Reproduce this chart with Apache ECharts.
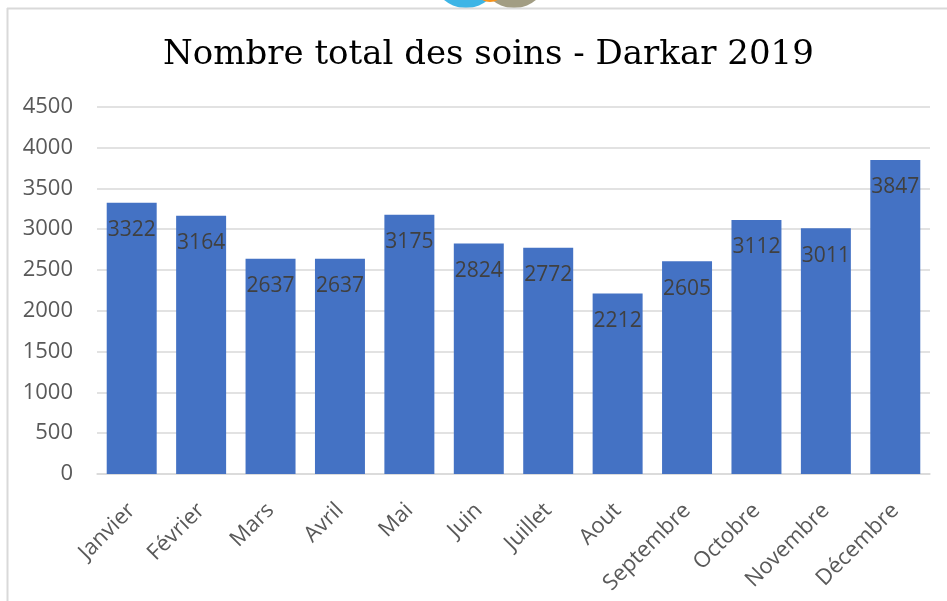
<!DOCTYPE html>
<html>
<head>
<meta charset="utf-8">
<script src="https://cdn.jsdelivr.net/npm/echarts@6/dist/echarts.min.js"></script>
<style>
  html, body { margin: 0; padding: 0; background: #fff; }
  #chart { width: 947px; height: 601px; }
</style>
</head>
<body>
<div id="chart"></div>
<script>
// Data
var months = ['Janvier', 'Février', 'Mars', 'Avril', 'Mai', 'Juin', 'Juillet', 'Aout', 'Septembre', 'Octobre', 'Novembre', 'Décembre'];
var soins = [3322, 3164, 2637, 2637, 3175, 2824, 2772, 2212, 2605, 3112, 3011, 3847];
var yMax = 4500;
var yStep = 500;

var myChart = echarts.init(document.getElementById('chart'));
var option = {
    animation: false,
    title: {
        text: 'Nombre total des soins - Darkar 2019',
        left: 158,
        top: 33,
        textStyle: {
            fontFamily: 'DejaVu Serif',
            fontSize: 34,
            fontWeight: 'normal',
            color: '#000'
        }
    },
    graphic: [
        { type: 'circle', shape: { cx: 466, cy: -26, r: 34 }, style: { fill: '#3db5e6' } },
        { type: 'circle', shape: { cx: 514, cy: -26, r: 34 }, style: { fill: '#a29d83' } },
        { type: 'circle', shape: { cx: 490, cy: -14, r: 16 }, style: { fill: '#f7941d' } },
        { type: 'line', shape: { x1: 7, y1: 8.5, x2: 947, y2: 8.5 }, style: { stroke: '#d9d9d9', lineWidth: 2 } },
        { type: 'line', shape: { x1: 7.5, y1: 8, x2: 7.5, y2: 601 }, style: { stroke: '#d9d9d9', lineWidth: 2 } }
    ],
    grid: {
        left: 97,
        right: 17,
        top: 106.7,
        bottom: 127
    },
    xAxis: {
        type: 'category',
        data: months,
        axisTick: { show: false },
        axisLine: { lineStyle: { color: '#d9d9d9', width: 1.5 } },
        axisLabel: {
            rotate: 45,
            interval: 0,
            margin: 33,
            fontFamily: 'Open Sans',
            fontSize: 22,
            color: '#595959'
        }
    },
    yAxis: {
        type: 'value',
        min: 0,
        max: yMax,
        interval: yStep,
        axisLine: { show: false },
        axisTick: { show: false },
        splitLine: { lineStyle: { color: '#d9d9d9', width: 1.5 } },
        axisLabel: {
            margin: 24,
            fontFamily: 'Open Sans',
            fontSize: 22,
            color: '#595959',
            formatter: function (v) { return String(v); }
        }
    },
    series: [
        {
            name: 'Soins',
            type: 'bar',
            data: soins,
            barWidth: '72%',
            itemStyle: { color: '#4472c4' },
            label: {
                show: true,
                position: 'insideTop',
                distance: 17,
                fontFamily: 'Open Sans',
                fontSize: 21,
                color: '#404040'
            }
        }
    ]
};
option && myChart.setOption(option);
</script>
</body>
</html>
